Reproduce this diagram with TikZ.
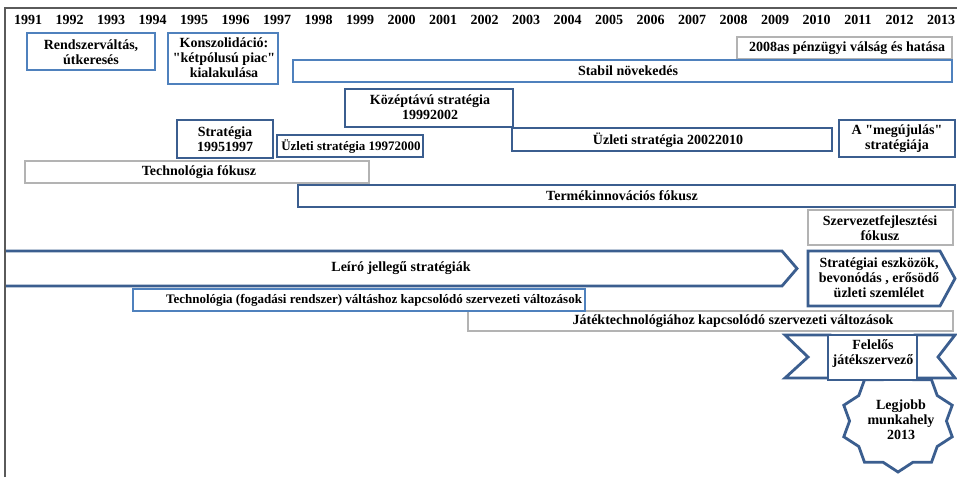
\documentclass[tikz,border=0pt]{standalone}
\usepackage{fontspec}
\setmainfont{Liberation Serif}[Ligatures=TeXOff]
\definecolor{bb}{HTML}{4F81BD}
\definecolor{db}{HTML}{3B5E8F}
\definecolor{gb}{HTML}{B3B3B3}
\definecolor{fr}{HTML}{5A5A5A}
\tikzset{
 brightbox/.style={draw=bb, line width=2.8pt, fill=white},
 darkbox/.style={draw=db, line width=2.8pt, fill=white, line join=miter},
 graybox/.style={draw=gb, line width=2.4pt, fill=white},
 lbl/.style={font=\bfseries\fontsize{14}{15}\selectfont, align=center, inner sep=0pt, text=black},
 smalllbl/.style={lbl, font=\bfseries\fontsize{13}{14}\selectfont},
}
\begin{document}
\begin{tikzpicture}[x=1pt,y=-1pt]
\useasboundingbox[fill=white] (0,0) rectangle (957,477);
% years
\foreach \yy [count=\k from 0] in {1991,...,2013}
  \node[lbl] (y\yy) at ({28+41.5*\k},20) {\yy};
% row boxes
\draw[brightbox] (27,33) rectangle (155,70);
\node[lbl] (rendszer) at (91,52) {Rendszerváltás,\\útkeresés};
\draw[brightbox] (168,33) rectangle (278,84);
\node[lbl] (konsz) at (224,58) {Konszolidáció:\\"kétpólusú piac"\\kialakulása};
\draw[graybox] (737,37) rectangle (952,59);
\node[lbl] (valsag) at (847,48) {2008as pénzügyi válság és hatása};
\draw[brightbox] (293,60) rectangle (952,82);
\node[lbl] (stabil) at (628,71) {Stabil növekedés};
\draw[darkbox] (345,89) rectangle (513,127);
\node[lbl] (kozep) at (430,107) {Középtávú stratégia\\19992002};
\draw[darkbox] (177,120) rectangle (273,158);
\node[lbl] (strat95) at (225,139) {Stratégia\\19951997};
\draw[darkbox] (277,135) rectangle (423,157);
\node[smalllbl] (uzl97) at (351,147) {Üzleti stratégia 19972000};
\draw[darkbox] (512,128) rectangle (832,151);
\node[lbl] (uzl02) at (668,140) {Üzleti stratégia 20022010};
\draw[darkbox] (839,120) rectangle (955,157);
\node[lbl] (megujulas) at (897,139) {A "megújulás"\\stratégiája};
\draw[graybox] (25,161) rectangle (369,183);
\node[lbl] (techfok) at (199,172) {Technológia fókusz};
\draw[darkbox] (298,185) rectangle (955,207);
\node[lbl] (termek) at (622,196) {Termékinnovációs fókusz};
\draw[graybox] (808,210) rectangle (953,245);
\node[lbl] (szerv) at (880,228) {Szervezetfejlesztési\\fókusz};
% arrows
\fill[white] (5,251) -- (782,251) -- (797,268.5) -- (782,286) -- (5,286) -- cycle;
\draw[darkbox] (5,251) -- (782,251) -- (797,268.5) -- (782,286) -- (5,286);
\node[lbl] (leiro) at (401,268) {Leíró jellegű stratégiák};
\draw[darkbox] (808,251) -- (940,251) -- (955,278.5) -- (940,306) -- (808,306) -- cycle;
\node[lbl] (eszk) at (879,278) {Stratégiai eszközök,\\bevonódás , erősödő\\üzleti szemlélet};
% organisational change boxes
\draw[graybox] (468,311) rectangle (953,331);
\node[lbl] (jatek) at (733,321) {Játéktechnológiához kapcsolódó szervezeti változások};
\draw[brightbox] (133,289) rectangle (585,311);
\node[smalllbl] (fogad) at (374,300) {Technológia (fogadási rendszer) váltáshoz kapcsolódó szervezeti változások};
% star
\draw[darkbox] plot[domain=0:19, samples=20]
  ({898+57*(1-0.15*mod(\x,2))*cos(90+18*\x)}, {421-51*(1-0.15*mod(\x,2))*sin(90+18*\x)}) -- cycle;
\node[lbl] (legjobb) at (901,420) {Legjobb\\munkahely\\2013};
% ribbon
\draw[darkbox] (785,335) -- (830,335) -- (830,378) -- (785,378) -- (808,357) -- cycle;
\draw[darkbox] (955,335) -- (915,335) -- (915,378) -- (955,378) -- (938,357) -- cycle;
\draw[darkbox] (828,335) rectangle (917,380);
\node[lbl] (felelos) at (873,354) {Felelős\\játékszervező};
% frame
\draw[fr, line width=1.5pt] (5,477) -- (5,8) -- (957,8);
\end{tikzpicture}
\end{document}
